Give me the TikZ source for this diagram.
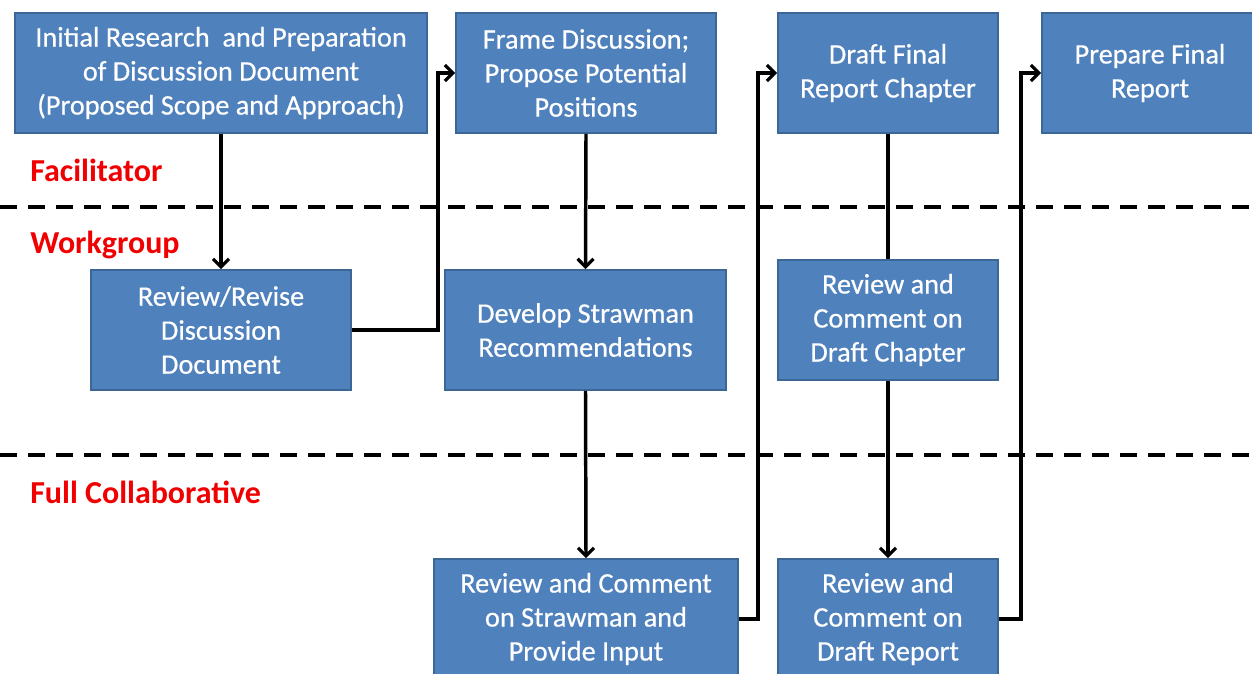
\documentclass[tikz,border=0pt]{standalone}
\usepackage{fontspec}
\setmainfont{Carlito}
\newfontfamily\boxfont{Carlito}[FakeBold=0.5]
\usetikzlibrary{arrows.meta}
\definecolor{boxfill}{HTML}{4F81BD}
\definecolor{boxline}{HTML}{3B6696}
\definecolor{lblred}{HTML}{F00000}
\begin{document}
\begin{tikzpicture}[x=0.75pt,y=-0.75pt,
  proc/.style={draw=boxline, line width=1.4pt, fill=boxfill, text=white, align=center,
    inner sep=0pt, minimum height=90pt, font=\boxfont\fontsize{21.2}{25.5}\selectfont},
  lane/.style={text=lblred, anchor=west, inner sep=0pt, font=\fontsize{24}{28}\selectfont\bfseries},
  flow/.style={line width=2.6pt, -{Straight Barb[length=6pt,width=12pt,line width=2.4pt]}},
  link/.style={line width=2.6pt},
  sep/.style={line width=2.8pt, dash pattern=on 13pt off 8pt}]
\useasboundingbox (0,0) rectangle (1252,674);
% lane separators
\draw[sep] (0,207) -- (1252,207);
\draw[sep] (0,455) -- (1252,455);
% lane labels
\node[lane] (lf) at (30,170) {Facilitator};
\node[lane] (lw) at (30,245) {Workgroup};
\node[lane] (lc) at (30,492) {Full Collaborative};
% boxes
\node[proc, minimum width=309pt] (A) at (221,73) {Initial Research~ and Preparation\\of Discussion Document\\(Proposed Scope and Approach)};
\node[proc, minimum width=195pt] (B) at (586,73) {Frame Discussion;\\Propose Potential\\Positions};
\node[proc, minimum width=165pt] (C) at (888,73) {Draft Final\\Report Chapter};
\node[proc, minimum width=162pt] (D) at (1150,73) {Prepare Final\\Report};
\node[proc, minimum width=195pt] (E) at (221,330) {Review/Revise\\Discussion\\Document};
\node[proc, minimum width=210.75pt] (F) at (585.5,330) {Develop Strawman\\Recommendations};
\node[proc, minimum width=165pt] (G) at (888,320) {Review and\\Comment on\\Draft Chapter};
\node[proc, minimum width=228pt] (H) at (586,619) {Review and Comment\\on Strawman and\\Provide Input};
\node[proc, minimum width=165pt] (I) at (888,619) {Review and\\Comment on\\Draft Report};
% connectors
\draw[flow] (A.south) -- (E.north);
\draw[flow] (E.east) -- ++(86,0) |- (B.west);
\draw[flow] (B.south) -- (F.north);
\draw[flow] (F.south) -- (H.north);
\draw[flow] (H.east) -- ++(19,0) |- (C.west);
\draw[link] (C.south) -- (G.north);
\draw[flow] (G.south) -- (I.north);
\draw[flow] (I.east) -- ++(22,0) |- (D.west);
\end{tikzpicture}
\end{document}
